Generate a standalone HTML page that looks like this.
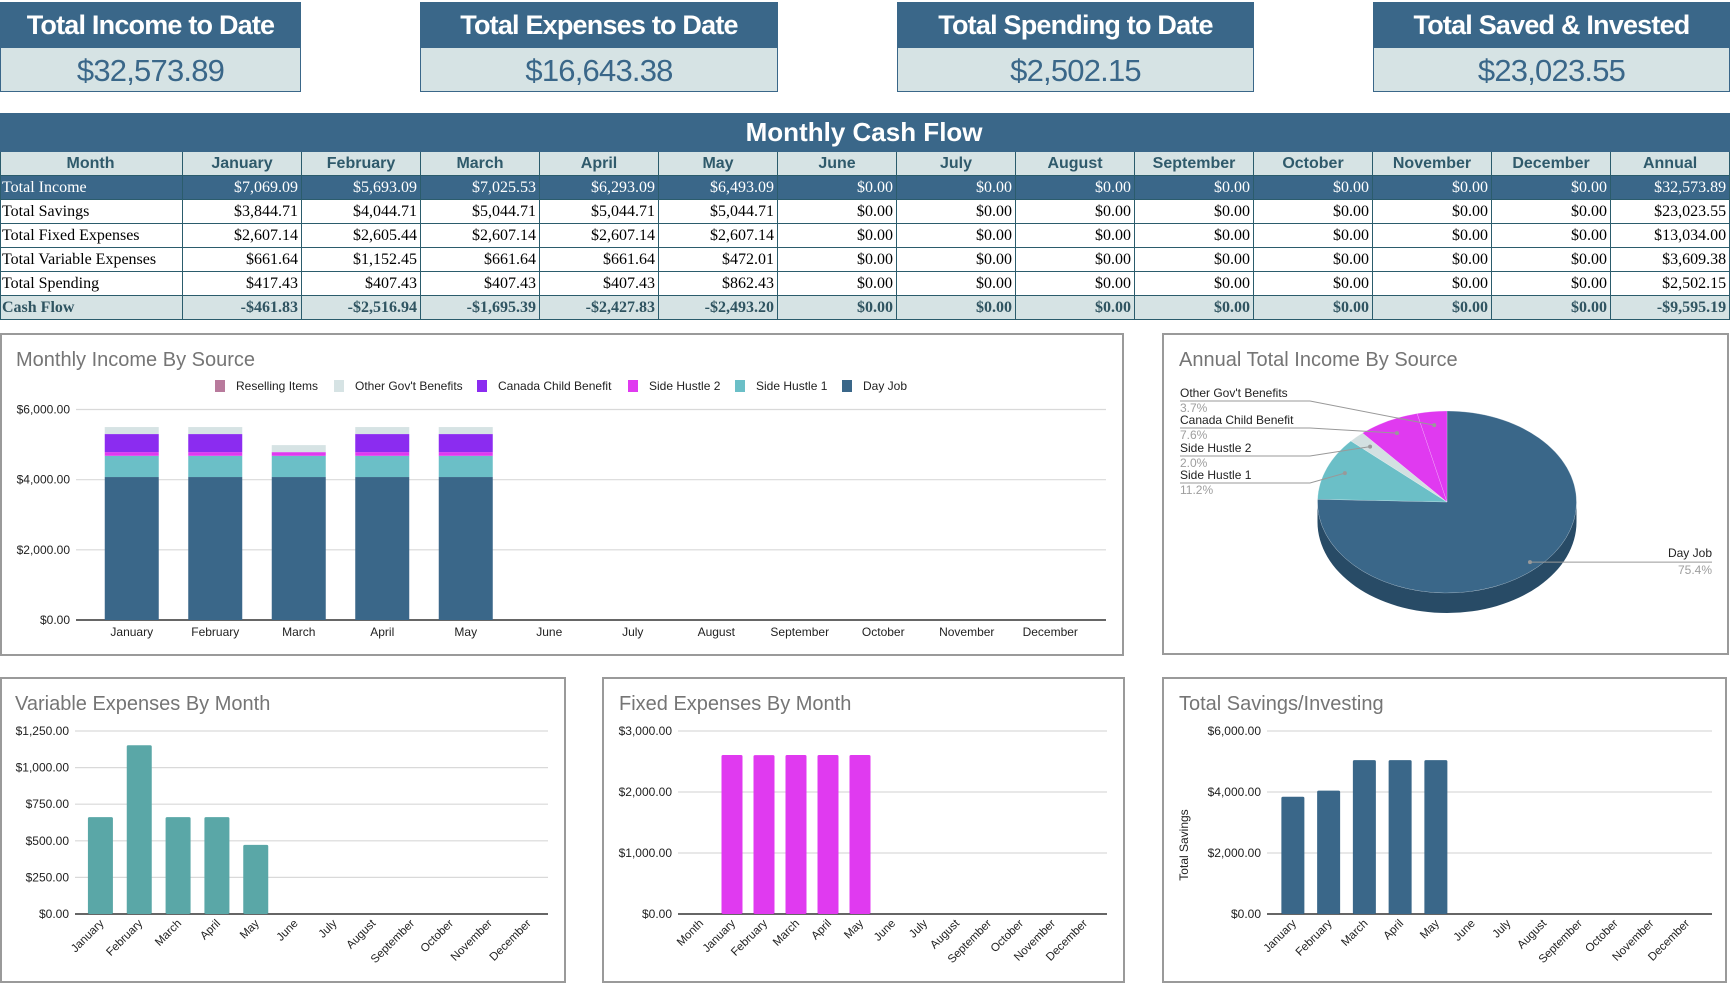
<!DOCTYPE html>
<html><head><meta charset="utf-8"><style>
body{margin:0;width:1735px;height:986px;background:#fff;position:relative;overflow:hidden;font-family:"Liberation Sans",Arial,sans-serif}
.card{position:absolute;top:2px;height:90px}
.card .hd{height:46px;background:#3a6789;color:#fff;font-weight:bold;font-size:27px;letter-spacing:-0.8px;text-align:center;line-height:46px}
.card .val{height:43px;background:#d6e3e4;border:1px solid #3a6789;border-top:none;color:#3a6789;font-size:31px;letter-spacing:-0.8px;text-align:center;line-height:45px}
#tbl{position:absolute;left:0;top:113px;border-collapse:collapse;table-layout:fixed;width:1729px}
#tbl td{border:1px solid #2b5c6c;height:23px;padding:0 3px;font-family:"Liberation Serif",serif;font-size:16px;text-align:right;white-space:nowrap;overflow:hidden}
#tbl td:first-child{text-align:left;padding-left:1px}
#tbl tr.title td{background:#3a6789;color:#fff;font-family:"Liberation Sans",sans-serif;font-weight:bold;font-size:26px;text-align:center;height:37px;border-color:#3a6789}
#tbl tr.head td{background:#d6e3e4;color:#2f5a6b;font-family:"Liberation Sans",sans-serif;font-weight:bold;font-size:16px;text-align:center}
#tbl tr.inc td{background:#3a6789;color:#fff}
#tbl tr.cf td{background:#d6e3e4;color:#2f5461;font-weight:bold}
.panel{position:absolute;border:2px solid #9a9a9a;background:#fff;box-sizing:border-box}
svg text{font-family:"Liberation Sans",Arial,sans-serif}
</style></head><body>
<div class="card" style="left:0;width:301px"><div class="hd">Total Income to Date</div><div class="val">$32,573.89</div></div>
<div class="card" style="left:420px;width:358px"><div class="hd">Total Expenses to Date</div><div class="val">$16,643.38</div></div>
<div class="card" style="left:897px;width:357px"><div class="hd">Total Spending to Date</div><div class="val">$2,502.15</div></div>
<div class="card" style="left:1373px;width:357px"><div class="hd">Total Saved &amp; Invested</div><div class="val">$23,023.55</div></div>

<table id="tbl">
<colgroup><col style="width:182px"><col span="13" style="width:119px"></colgroup>
<tr class="title"><td colspan="14">Monthly Cash Flow</td></tr>
<tr class="head"><td style="text-align:center">Month</td><td>January</td><td>February</td><td>March</td><td>April</td><td>May</td><td>June</td><td>July</td><td>August</td><td>September</td><td>October</td><td>November</td><td>December</td><td>Annual</td></tr>
<tr class="inc"><td>Total Income</td><td>$7,069.09</td><td>$5,693.09</td><td>$7,025.53</td><td>$6,293.09</td><td>$6,493.09</td><td>$0.00</td><td>$0.00</td><td>$0.00</td><td>$0.00</td><td>$0.00</td><td>$0.00</td><td>$0.00</td><td>$32,573.89</td></tr>
<tr><td>Total Savings</td><td>$3,844.71</td><td>$4,044.71</td><td>$5,044.71</td><td>$5,044.71</td><td>$5,044.71</td><td>$0.00</td><td>$0.00</td><td>$0.00</td><td>$0.00</td><td>$0.00</td><td>$0.00</td><td>$0.00</td><td>$23,023.55</td></tr>
<tr><td>Total Fixed Expenses</td><td>$2,607.14</td><td>$2,605.44</td><td>$2,607.14</td><td>$2,607.14</td><td>$2,607.14</td><td>$0.00</td><td>$0.00</td><td>$0.00</td><td>$0.00</td><td>$0.00</td><td>$0.00</td><td>$0.00</td><td>$13,034.00</td></tr>
<tr><td>Total Variable Expenses</td><td>$661.64</td><td>$1,152.45</td><td>$661.64</td><td>$661.64</td><td>$472.01</td><td>$0.00</td><td>$0.00</td><td>$0.00</td><td>$0.00</td><td>$0.00</td><td>$0.00</td><td>$0.00</td><td>$3,609.38</td></tr>
<tr><td>Total Spending</td><td>$417.43</td><td>$407.43</td><td>$407.43</td><td>$407.43</td><td>$862.43</td><td>$0.00</td><td>$0.00</td><td>$0.00</td><td>$0.00</td><td>$0.00</td><td>$0.00</td><td>$0.00</td><td>$2,502.15</td></tr>
<tr class="cf"><td>Cash Flow</td><td>-$461.83</td><td>-$2,516.94</td><td>-$1,695.39</td><td>-$2,427.83</td><td>-$2,493.20</td><td>$0.00</td><td>$0.00</td><td>$0.00</td><td>$0.00</td><td>$0.00</td><td>$0.00</td><td>$0.00</td><td>-$9,595.19</td></tr>
</table>

<div class="panel" style="left:0;top:333px;width:1124px;height:323px"></div>
<div class="panel" style="left:1162px;top:333px;width:567px;height:322px"></div>
<div class="panel" style="left:0;top:677px;width:566px;height:306px"></div>
<div class="panel" style="left:602px;top:677px;width:523px;height:306px"></div>
<div class="panel" style="left:1162px;top:677px;width:565px;height:306px"></div>

<svg id="sv" width="1735" height="986" style="position:absolute;left:0;top:0"></svg>

<script>
// ===== Data =====
const months = ["January","February","March","April","May","June","July","August","September","October","November","December"];
const incomeSeries = ["Day Job","Side Hustle 1","Side Hustle 2","Canada Child Benefit","Other Gov't Benefits","Reselling Items"];
const incomeColors = ["#3a6789","#6bbfc7","#e03af0","#8b2cf0","#d6e3e4","#b87a9c"];
const dayJob = [4075,4075,4075,4075,4075,0,0,0,0,0,0,0];
const sideHustle1 = [605,605,605,605,605,0,0,0,0,0,0,0];
const sideHustle2 = [105,105,105,105,105,0,0,0,0,0,0,0];
const canadaChildBenefit = [515,515,0,515,515,0,0,0,0,0,0,0];
const otherGovBenefits = [200,200,200,200,200,0,0,0,0,0,0,0];
const resellingItems = [0,0,0,0,0,0,0,0,0,0,0,0];
const incomeTicks = [0,2000,4000,6000];
const incomeTickLabels = ["$0.00","$2,000.00","$4,000.00","$6,000.00"];

const pieLabels = ["Day Job","Side Hustle 1","Side Hustle 2","Canada Child Benefit","Other Gov't Benefits"];
const pieValues = [75.4,11.2,2.0,7.6,3.7];
const pieColors = ["#3a6789","#6bbfc7","#d3e0e1","#e03af0","#e03af0"];
const pieSideColors = ["#284b66","#4c8f96","#9aa8a9","#a82bb4","#a82bb4"];

const variableValues = [661.64,1152.45,661.64,661.64,472.01,0,0,0,0,0,0,0];
const variableTicks = [0,250,500,750,1000,1250];
const variableTickLabels = ["$0.00","$250.00","$500.00","$750.00","$1,000.00","$1,250.00"];

const fixedCats = ["Month"].concat(months);
const fixedValues = [0,2607.14,2605.44,2607.14,2607.14,2607.14,0,0,0,0,0,0,0];
const fixedTicks = [0,1000,2000,3000];
const fixedTickLabels = ["$0.00","$1,000.00","$2,000.00","$3,000.00"];

const savingsValues = [3844.71,4044.71,5044.71,5044.71,5044.71,0,0,0,0,0,0,0];
const savingsTicks = [0,2000,4000,6000];
const savingsTickLabels = ["$0.00","$2,000.00","$4,000.00","$6,000.00"];

const NS="http://www.w3.org/2000/svg";
const sv=document.getElementById('sv');
function mk(tag,attrs,parent){const e=document.createElementNS(NS,tag);for(const k in attrs)e.setAttribute(k,attrs[k]);(parent||sv).appendChild(e);return e;}
function txt(s,attrs){const t=mk('text',attrs);t.textContent=s;return t;}

function axes(o){
  const y=v=>o.yBot-(v/o.max)*(o.yBot-o.yTop);
  const band=(o.x1-o.x0)/o.n;
  const xc=i=>o.x0+band*(i+0.5);
  return {y,band,xc};
}
function grid(o,ax,name,fs){
  o.ticks.forEach((t,i)=>{
    const g=mk('line',{x1:o.gx0,x2:o.x1,y1:ax.y(t),y2:ax.y(t),stroke:t===0?'#333':'#d9d9d9','stroke-width':t===0?1.5:1.2});
    
    
    const l=txt(o.labels[i],{x:o.gx0-6,y:ax.y(t)+4,'text-anchor':'end','font-size':fs||12,fill:'#222'});
    
    
  });
}
function title(s,x,y,name){const t=txt(s,{x:x,y:y,'font-size':20,fill:'#757575'});}

// ===== Monthly income stacked =====
(function(){
  const o={x0:90,x1:1106,gx0:76,yTop:409.5,yBot:620,max:6000,ticks:incomeTicks,labels:incomeTickLabels,n:12};
  title("Monthly Income By Source",16,366,'income-chart-title');
  const ax=axes({x0:90,x1:1092,yTop:o.yTop,yBot:o.yBot,max:o.max,n:12});
  grid(o,ax,'income',12);
  const series=[dayJob,sideHustle1,sideHustle2,canadaChildBenefit,otherGovBenefits,resellingItems];
  months.forEach((m,i)=>{
    let acc=0;
    series.forEach((s,k)=>{
      if(s[i]>0){
        const r=mk('rect',{x:ax.xc(i)-27,width:54,y:ax.y(acc+s[i]),height:ax.y(acc)-ax.y(acc+s[i]),fill:incomeColors[k]});
        
        
      }
      acc+=s[i];
    });
    const l=txt(m,{x:ax.xc(i),y:636,'text-anchor':'middle','font-size':12,fill:'#222'});
    
    
  });
  const legX=[215,334,477,628,735,842];
  const order=[5,4,3,2,1,0];
  order.forEach((k,j)=>{
    const r=mk('rect',{x:legX[j],y:380,width:10,height:12,fill:incomeColors[k]});
    
    
    const t=txt(incomeSeries[k],{x:legX[j]+21,y:390,'font-size':12,fill:'#222'});
    
    
  });
})();

// ===== Pie =====
(function(){
  title("Annual Total Income By Source",1179,366,'pie-chart-title');
  const cx=1447,cy=502,rx=129.5,ry=91,depth=20;
  const P=(a,dy)=>[cx+rx*Math.sin(a*Math.PI/180),cy-ry*Math.cos(a*Math.PI/180)+(dy||0)];
  const total=pieValues.reduce((a,b)=>a+b,0);
  let a=0;const angs=pieValues.map(v=>{const s=a;a+=v/total*360;return [s,a];});
  angs.forEach(([a0,a1],k)=>{
    const s=Math.max(a0,90),e=Math.min(a1,270);
    if(e<=s)return;
    const p0=P(s),p1=P(e),q1=P(e,depth),q0=P(s,depth);
    const d=`M${p0} A${rx} ${ry} 0 0 1 ${p1} L${q1} A${rx} ${ry} 0 0 0 ${q0} Z`;
    const p=mk('path',{d:d,fill:pieSideColors[k]});
    
    
  });
  angs.forEach(([a0,a1],k)=>{
    const p0=P(a0),p1=P(a1);const large=(a1-a0)>180?1:0;
    const p=mk('path',{d:`M${cx},${cy} L${p0} A${rx} ${ry} 0 ${large} 1 ${p1} Z`,fill:pieColors[k],stroke:'#ffffff','stroke-width':0.5,'stroke-opacity':0.4});
    
    
  });
  const labY={4:393,3:420,2:448,1:475};
  [4,3,2,1,0].forEach(k=>{
    const mid=(angs[k][0]+angs[k][1])/2;
    const f=k===0?0.92:0.85;
    const d=[cx+rx*f*Math.sin(mid*Math.PI/180),cy-ry*f*Math.cos(mid*Math.PI/180)];
    const pct=pieValues[k].toFixed(1)+'%';
    let t1,t2,ln;
    if(k===0){
      ln=mk('polyline',{points:`${d} 1712,${d[1]}`,fill:'none',stroke:'#999','stroke-width':1});
      t1=txt(pieLabels[k],{x:1712,y:d[1]-5,'text-anchor':'end','font-size':12,fill:'#222'});
      t2=txt(pct,{x:1712,y:d[1]+12,'text-anchor':'end','font-size':12,fill:'#9e9e9e'});
    }else{
      const y=labY[k];
      ln=mk('polyline',{points:`1180,${y+8} 1310,${y+8} ${d}`,fill:'none',stroke:'#999','stroke-width':1});
      t1=txt(pieLabels[k],{x:1180,y:y+4,'font-size':12,fill:'#222'});
      t2=txt(pct,{x:1180,y:y+19,'font-size':12,fill:'#9e9e9e'});
    }
    const dot=mk('circle',{cx:d[0],cy:d[1],r:2,fill:'#999'});
    
    
    
    
  });
})();

function barChart(cfg){
  title(cfg.title,cfg.tx,710,cfg.name+'-title');
  const ax=axes({x0:cfg.bx0,x1:cfg.bx1,yTop:731,yBot:914,max:cfg.max,n:cfg.cats.length});
  grid({gx0:cfg.gx0,x1:cfg.gx1,ticks:cfg.ticks,labels:cfg.labels},ax,cfg.name,12);
  cfg.cats.forEach((c,i)=>{
    const v=cfg.values[i];
    if(v>0){
      const r=mk('rect',{x:ax.xc(i)-cfg.bw/2,width:cfg.bw,y:ax.y(v),height:ax.y(0)-ax.y(v),fill:cfg.color,rx:1.5});
      
      
    }
    const x=ax.xc(i)+4,y=924;
    const l=txt(c,{x:x,y:y,'text-anchor':'end','font-size':11.5,fill:'#222',transform:`rotate(-45 ${x} ${y})`});
    
    
  });
}
barChart({name:'variable',title:'Variable Expenses By Month',tx:15,cats:months,values:variableValues,ticks:variableTicks,labels:variableTickLabels,max:1250,bx0:81,bx1:547,gx0:75,gx1:548,bw:25,color:'#5aa7a7'});
barChart({name:'fixed',title:'Fixed Expenses By Month',tx:619,cats:fixedCats,values:fixedValues,ticks:fixedTicks,labels:fixedTickLabels,max:3000,bx0:684,bx1:1100,gx0:678,gx1:1107,bw:21,color:'#e03af0'});
barChart({name:'savings',title:'Total Savings/Investing',tx:1179,cats:months,values:savingsValues,ticks:savingsTicks,labels:savingsTickLabels,max:6000,bx0:1275,bx1:1704,gx0:1267,gx1:1712,bw:23,color:'#3a6789'});
(function(){const t=txt('Total Savings',{x:1188,y:845,'text-anchor':'middle','font-size':12,fill:'#222',transform:'rotate(-90 1188 845)'});})();
</script>
</body></html>
